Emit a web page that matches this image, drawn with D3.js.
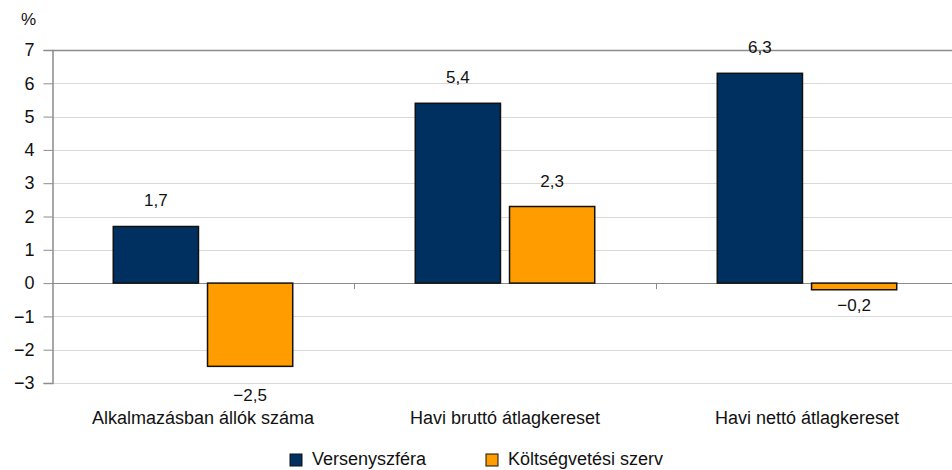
<!DOCTYPE html>
<html>
<head>
<meta charset="utf-8">
<script src="https://cdn.jsdelivr.net/npm/d3@7"></script>
<style>
  body { margin: 0; background: #fff; }
  text { font-family: "Liberation Sans", Arial, sans-serif; fill: #111; }
</style>
</head>
<body>
<div id="chart"></div>
<script>
// data
var categories = ["Alkalmazásban állók száma", "Havi bruttó átlagkereset", "Havi nettó átlagkereset"];
var seriesNames = ["Versenyszféra", "Költségvetési szerv"];
var verseny = [1.7, 5.4, 6.3];
var koltseg = [-2.5, 2.3, -0.2];
var yTicks = [-3, -2, -1, 0, 1, 2, 3, 4, 5, 6, 7];
var colors = ["#00305f", "#ff9c00"];

var width = 952, height = 470;
var margin = {top: 50, right: -6, bottom: 87, left: 52};

var svg = d3.select("#chart").append("svg")
    .attr("width", width)
    .attr("height", height);

var x = d3.scaleBand()
    .domain(categories)
    .range([margin.left, width - margin.right]);

var y = d3.scaleLinear()
    .domain([-3, 7])
    .range([height - margin.bottom, margin.top]);

var x1 = d3.scaleBand()
    .domain([0, 1])
    .range([0, x.bandwidth()])
    .paddingInner(0.096)
    .paddingOuter(0.65);

// grid
svg.append("g")
    .selectAll("line")
    .data(yTicks)
    .enter().append("line")
    .attr("x1", margin.left)
    .attr("x2", width)
    .attr("y1", function(d) { return Math.round(y(d)) + 0.5; })
    .attr("y2", function(d) { return Math.round(y(d)) + 0.5; })
    .attr("stroke", function(d) { return (d == 7 || d == 0) ? "#8c8c8c" : "#d9d9d9"; })
    .attr("stroke-width", function(d) { return d == 7 ? 1.5 : 1; });

// y axis
var yAxis = svg.append("g")
    .attr("transform", "translate(" + (margin.left + 0.5) + ",0)")
    .call(d3.axisLeft(y).tickValues(yTicks).tickSize(9).tickPadding(9)
        .tickFormat(function(d) { return d < 0 ? "\u2212" + Math.abs(d) : d; }));
yAxis.select(".domain").attr("stroke", "#8c8c8c").attr("stroke-width", 1.5);
yAxis.selectAll(".tick line").attr("stroke", "#8c8c8c");
yAxis.selectAll(".tick text")
    .style("font-family", "Liberation Sans, Arial, sans-serif")
    .style("font-size", "18px")
    .attr("fill", "#111");

svg.append("text")
    .attr("x", 21)
    .attr("y", 25)
    .style("font-size", "17px")
    .text("%");

// category ticks on zero line
svg.append("g")
    .selectAll("line")
    .data(categories.slice(1))
    .enter().append("line")
    .attr("x1", function(d) { return Math.round(x(d)) + 0.5; })
    .attr("x2", function(d) { return Math.round(x(d)) + 0.5; })
    .attr("y1", y(0))
    .attr("y2", y(0) + 6)
    .attr("stroke", "#8c8c8c");

function fmt(v) {
    var s = Math.abs(v).toFixed(1).replace(".", ",");
    return v < 0 ? "\u2212" + s : s;
}

var series = [verseny, koltseg];
series.forEach(function(vals, s) {
    var g = svg.append("g");
    g.selectAll("rect")
        .data(vals)
        .enter().append("rect")
        .attr("x", function(d, i) { return x(categories[i]) + x1(s); })
        .attr("width", x1.bandwidth())
        .attr("y", function(d) { return y(Math.max(0, d)); })
        .attr("height", function(d) { return Math.abs(y(d) - y(0)); })
        .attr("fill", colors[s])
        .attr("stroke", "#111")
        .attr("stroke-width", 1.5);
    g.selectAll("text")
        .data(vals)
        .enter().append("text")
        .attr("x", function(d, i) { return x(categories[i]) + x1(s) + x1.bandwidth() / 2; })
        .attr("y", function(d) { return d >= 0 ? y(d) - 20 : y(d) + 20 + 6 * Math.abs(d); })
        .attr("text-anchor", "middle")
        .style("font-size", "17px")
        .text(function(d) { return fmt(d); });
});

// category labels
svg.append("g")
    .selectAll("text")
    .data(categories)
    .enter().append("text")
    .attr("x", function(d) { return x(d) + x.bandwidth() / 2; })
    .attr("y", 424)
    .attr("text-anchor", "middle")
    .style("font-size", "18px")
    .text(function(d) { return d; });

// legend
var legendX = [290, 486];
var legend = svg.append("g")
    .selectAll("g")
    .data(seriesNames)
    .enter().append("g")
    .attr("transform", function(d, i) { return "translate(" + legendX[i] + ",454)"; });
legend.append("rect")
    .attr("width", 12)
    .attr("height", 12)
    .attr("fill", function(d, i) { return colors[i]; })
    .attr("stroke", "#111")
    .attr("stroke-width", 1);
legend.append("text")
    .attr("x", 22)
    .attr("y", 11)
    .style("font-size", "18px")
    .text(function(d) { return d; });
</script>
</body>
</html>
